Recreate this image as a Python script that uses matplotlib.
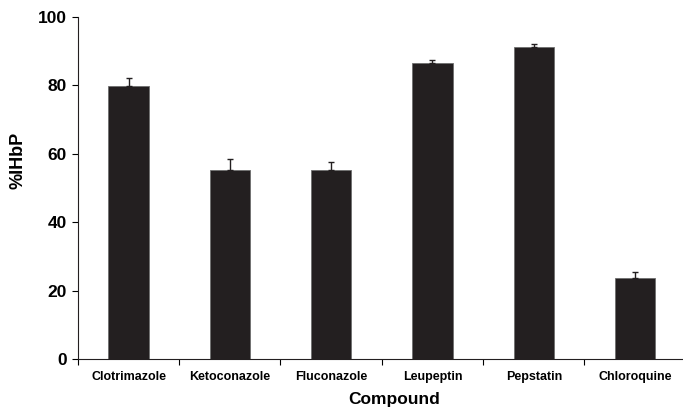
import numpy as np
import matplotlib
matplotlib.use("Agg")
import matplotlib.pyplot as plt
from matplotlib.ticker import FixedLocator

# ---------------- DATA ----------------
compounds = ["Clotrimazole", "Ketoconazole", "Fluconazole",
             "Leupeptin", "Pepstatin", "Chloroquine"]
ihbp = [79.8, 55.4, 55.3, 86.6, 91.2, 23.6]
err = [2.4, 3.1, 2.3, 0.8, 0.8, 1.9]

plt.rcParams['font.family'] = ['Liberation Sans', 'DejaVu Sans']
plt.rcParams['font.weight'] = 'bold'

# ---------------- PLOT ----------------
fig = plt.figure(figsize=(6.83, 4.07), dpi=100)
ax = fig.add_axes([0.114, 0.118, 0.89, 0.84])

x = np.arange(len(compounds))
ax.bar(x, ihbp, width=0.4, color='#231f20', edgecolor='#6e6e6e', linewidth=0.6,
       yerr=[np.zeros(len(err)), err], error_kw=dict(ecolor='#231f20', elinewidth=1.0,
                                                     capsize=2.5, capthick=1.0))

ax.set_xlim(-0.5, 5.5)
ax.set_ylim(0, 100)
ax.set_yticks([0, 20, 40, 60, 80, 100])
ax.tick_params(axis='y', labelsize=12.5, direction='out', length=4, width=0.8, pad=4)

# category labels centred, tick marks between categories
ax.set_xticks(x)
ax.set_xticklabels(compounds, fontsize=9, fontweight='bold')
ax.tick_params(axis='x', which='major', length=0, pad=8.5)
ax.xaxis.set_minor_locator(FixedLocator(np.arange(-0.5, 5.0, 1.0)))
ax.tick_params(axis='x', which='minor', direction='out', length=4, width=0.8)

for s in ['top', 'right']:
    ax.spines[s].set_visible(False)
for s in ['left', 'bottom']:
    ax.spines[s].set_linewidth(0.8)
    ax.spines[s].set_color('#231f20')

ax.set_ylabel("%IHbP", fontsize=13, fontweight='bold')
ax.yaxis.set_label_coords(-0.085, 0.58)
ax.set_xlabel("Compound", fontsize=12.5, fontweight='bold')
ax.xaxis.set_label_coords(0.52, -0.097)

fig.savefig("out.png", dpi=100)
